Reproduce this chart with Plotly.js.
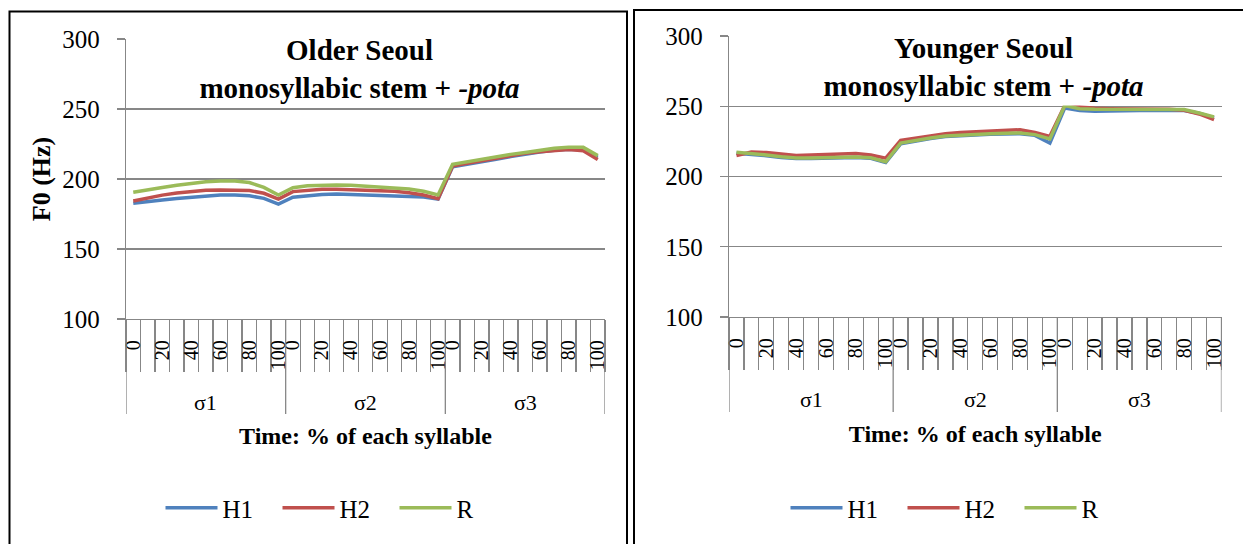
<!DOCTYPE html>
<html>
<head>
<meta charset="utf-8">
<script src="https://cdn.plot.ly/plotly-3.0.1.min.js"></script>
<style>
html,body{margin:0;padding:0;background:#fff;}
#chart{width:1243px;height:544px;}
#chart text{font-family:"Liberation Serif","Times New Roman",serif !important;}
</style>
</head>
<body>
<div id="chart"></div>
<script>
// ---- data ----
const syllables = ["σ1", "σ2", "σ3"];
const pctSteps = ["0","10","20","30","40","50","60","70","80","90","100"];
const labeledPcts = ["0","20","40","60","80","100"];
const seriesNames = ["H1", "H2", "R"];

const olderH1 = [182.6,184,185,186,187,188,188.6,188.6,188,186.2,182,
                 187,188.3,189,189.3,189,188.6,188.2,187.9,187.6,187.2,185.7,
                 208.8,210.5,212.1,214,216,217.9,219.3,220.5,221.2,220.9,215.5];
const olderH2 = [184.3,186.5,188.5,190,191.2,192,192.1,192.1,191.8,189.8,185.7,
                 191,192.1,192.6,192.6,192.4,192.1,191.7,191.2,190.2,188.6,186,
                 209.3,211.2,213,215.2,216.9,218.3,219.5,220.5,221,220.2,214];
const olderR  = [190.5,192.5,194,195.5,197,198,198.5,198.5,197.5,194,188.5,
                 193.8,195.2,195.7,195.7,195.5,195,194.5,193.8,192.9,191.2,188.6,
                 210.5,212.4,214.3,216,217.6,219,220.5,222,222.6,222.6,216.7];

const youngerH1 = [216.5,215.8,214.8,213.6,212.8,212.8,213,213.3,213.5,213,210,
                   223.2,225.2,227,228.4,229.1,229.6,230,230.2,230.4,229.3,223.8,
                   248.8,246.9,246.4,246.4,246.7,246.9,247.1,247.1,246.9,245,241.7];
const youngerH2 = [215,217.4,217,215.7,215,215.3,215.7,216.2,216.4,215.3,213.1,
                   225.7,227.4,229,230.5,231.4,231.9,232.4,232.9,233.3,231.4,228.6,
                   250.7,249.5,248.6,248.3,248.3,248.3,248.1,247.9,247.1,244.5,240.5];
const youngerR  = [217.2,216.4,215.3,214,213.1,213.1,213.3,213.6,213.8,213.3,210.5,
                   223.8,225.7,227.4,228.8,229.5,230,230.5,230.7,231,229.8,226.7,
                   250.5,248.3,247.9,247.9,247.9,248.1,248.1,248.1,247.6,245.2,242.4];

const panelTitles = ["<b>Older Seoul<br>monosyllabic stem + <i>-pota</i></b>",
                     "<b>Younger Seoul<br>monosyllabic stem + <i>-pota</i></b>"];
const yTitle = "<b>F0 (Hz)</b>";
const xTitle = "<b>Time: % of each syllable</b>";

// ---- derived category structure ----
const n = syllables.length * pctSteps.length;
const xIdx = Array.from({length: n}, (_, i) => i);
const tickVals = [], tickText = [];
xIdx.forEach(i => {
  const p = pctSteps[i % pctSteps.length];
  if (labeledPcts.includes(p)) { tickVals.push(i); tickText.push(p); }
});
const boundaries = Array.from({length: n + 1}, (_, i) => i - 0.5);
const groupBounds = syllables.map((_, g) => g * pctSteps.length - 0.5).concat([n - 0.5]);
const groupCenters = syllables.map((_, g) => g * pctSteps.length + (pctSteps.length - 1) / 2);

const colors = ["#4F81BD", "#C0504D", "#9BBB59"];
const FONT = "Liberation Serif";
const GRID = "#878787";

const W = 1243, H = 544;
const px = x => x / W;
const py = y => (H - y) / H;

const traces = [];
[[olderH1, olderH2, olderR], [youngerH1, youngerH2, youngerR]].forEach((set, k) => {
  set.forEach((vals, s) => {
    traces.push({
      type: "scatter", mode: "lines", x: xIdx, y: vals,
      name: seriesNames[s],
      line: {color: colors[s], width: 3.5},
      xaxis: k === 0 ? "x" : "x2", yaxis: k === 0 ? "y" : "y2",
      legend: k === 0 ? "legend" : "legend2",
      hoverinfo: "skip"
    });
  });
});

function xAxis(domain, anchor) {
  return {
    domain: domain, anchor: anchor, range: [-0.5, n - 0.5],
    tickmode: "array", tickvals: tickVals, ticktext: tickText,
    tickangle: -90, ticks: "", ticklabelstandoff: 12,
    tickfont: {family: FONT, size: 20, color: "#000"},
    minor: {tickmode: "array", tickvals: boundaries, ticks: "outside",
            ticklen: 52, tickcolor: GRID, tickwidth: 1.3, showgrid: false},
    showgrid: false, zeroline: false,
    showline: true, linecolor: GRID, linewidth: 1.3,
    title: {text: xTitle, font: {family: FONT, size: 24, color: "#000"}, standoff: 58},
    fixedrange: true
  };
}
function yAxis(domain, anchor, withTitle) {
  const a = {
    domain: domain, anchor: anchor, range: [100, 300],
    tickmode: "linear", tick0: 100, dtick: 50,
    ticks: "outside", ticklen: 8, tickcolor: GRID, tickwidth: 1.3,
    ticklabelstandoff: 12,
    tickfont: {family: FONT, size: 25, color: "#000"},
    showgrid: true, gridcolor: GRID, gridwidth: 1.3,
    zeroline: false, showline: true, linecolor: GRID, linewidth: 1.3,
    fixedrange: true
  };
  if (withTitle) a.title = {text: yTitle, font: {family: FONT, size: 26, color: "#000"}, standoff: 4};
  return a;
}

const shapes = [
  {type: "rect", xref: "paper", yref: "paper", x0: px(9.5), x1: px(627), y0: -0.05, y1: py(11.5),
   line: {color: "#000", width: 2}, fillcolor: "rgba(0,0,0,0)", layer: "below"},
  {type: "rect", xref: "paper", yref: "paper", x0: px(634), x1: 1.05, y0: -0.05, y1: py(10),
   line: {color: "#000", width: 2}, fillcolor: "rgba(0,0,0,0)", layer: "below"}
];
groupBounds.forEach(b => {
  shapes.push({type: "line", xref: "x", yref: "paper", x0: b, x1: b, y0: py(414), y1: py(319),
               line: {color: GRID, width: 1.3}});
  shapes.push({type: "line", xref: "x2", yref: "paper", x0: b, x1: b, y0: py(412), y1: py(317),
               line: {color: GRID, width: 1.3}});
});

const annotations = [
  {xref: "paper", yref: "paper", x: px(359.5), y: py(68.5), xanchor: "center", yanchor: "middle",
   text: panelTitles[0], showarrow: false, bgcolor: "#fff", width: 371, height: 74,
   font: {family: FONT, size: 29, color: "#000"}},
  {xref: "paper", yref: "paper", x: px(983.5), y: py(67), xanchor: "center", yanchor: "middle",
   text: panelTitles[1], showarrow: false, bgcolor: "#fff", width: 371, height: 74,
   font: {family: FONT, size: 29, color: "#000"}}
];
syllables.forEach((s, g) => {
  annotations.push({xref: "x", yref: "paper", x: groupCenters[g], y: py(402), text: s,
    showarrow: false, yanchor: "middle", font: {family: FONT, size: 22, color: "#000"}});
  annotations.push({xref: "x2", yref: "paper", x: groupCenters[g], y: py(399), text: s,
    showarrow: false, yanchor: "middle", font: {family: FONT, size: 22, color: "#000"}});
});

const legendBase = {orientation: "h", xanchor: "center", yanchor: "middle", y: py(508),
  font: {family: FONT, size: 25, color: "#000"}, itemwidth: 52, bgcolor: "rgba(0,0,0,0)",
  traceorder: "normal", entrywidth: 50, entrywidthmode: "pixels"};

const layout = {
  width: W, height: H, margin: {l: 0, r: 0, t: 0, b: 0},
  template: {layout: {font: {family: FONT, color: "#000"}}},
  paper_bgcolor: "#fff", plot_bgcolor: "#fff",
  font: {family: FONT, color: "#000"},
  showlegend: true,
  xaxis: xAxis([px(126), px(605)], "y"),
  yaxis: yAxis([py(319), py(39)], "x", true),
  xaxis2: xAxis([px(729), px(1221.5)], "y2"),
  yaxis2: yAxis([py(317), py(36)], "x2", false),
  legend: Object.assign({}, legendBase, {x: px(336)}),
  legend2: Object.assign({}, legendBase, {x: px(961)}),
  shapes: shapes,
  annotations: annotations
};

Plotly.newPlot("chart", traces, layout, {staticPlot: true, displayModeBar: false}).then(gd => {
  gd.querySelectorAll("text").forEach(t => {
    t.setAttribute("font-family", FONT);
    t.style.setProperty("font-family", FONT, "important");
  });
});
</script>
</body>
</html>
